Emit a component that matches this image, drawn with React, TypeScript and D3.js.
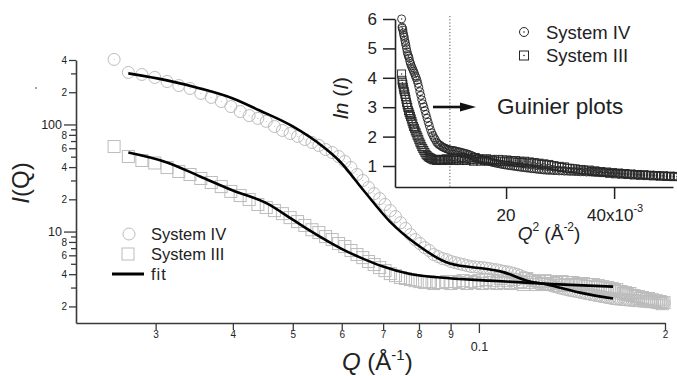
import { useEffect, useRef } from "react";
import * as d3 from "d3";

// SAXS data, I(Q) vs Q (1/Å)
const systemIV: [number, number][] = [
  [0.0257, 405], [0.0271, 306], [0.0285, 293], [0.0299, 275], [0.0313, 252], [0.0327, 231], [0.0341, 217],
  [0.0355, 195], [0.0369, 179], [0.0383, 164], [0.0397, 147], [0.0411, 132], [0.0425, 121], [0.0439, 114],
  [0.0453, 107], [0.0467, 95.7], [0.0481, 87.9], [0.0495, 82.4], [0.0509, 77.3], [0.0523, 72.4], [0.0537, 67.9],
  [0.0551, 63.7], [0.0565, 58.4], [0.0579, 54.7], [0.0593, 50.2], [0.0607, 45.1], [0.0621, 39.6], [0.0635, 34.1],
  [0.0649, 30.0], [0.0663, 25.8], [0.0677, 22.6], [0.0691, 20.3], [0.0705, 17.9], [0.0719, 15.7], [0.0733, 13.8],
  [0.0747, 12.1], [0.0761, 10.7], [0.0775, 9.37], [0.0789, 8.42], [0.0803, 7.73], [0.0817, 7.09], [0.0831, 6.65],
  [0.0845, 6.10], [0.0859, 5.84], [0.0873, 5.59], [0.0887, 5.47], [0.0901, 5.25], [0.0915, 5.13], [0.0929, 5.02],
  [0.0943, 4.92], [0.0957, 4.81], [0.0971, 4.71], [0.0985, 4.68], [0.0999, 4.64],
  [0.1013, 4.61], [0.1027, 4.56], [0.1041, 4.51], [0.1055, 4.42], [0.1069, 4.40], [0.1083, 4.32], [0.1097, 4.25],
  [0.1111, 4.20], [0.1125, 4.14], [0.1139, 4.05], [0.1153, 3.98], [0.1167, 3.88], [0.1181, 3.76], [0.1195, 3.68],
  [0.1209, 3.58], [0.1223, 3.50], [0.1237, 3.44], [0.1251, 3.36], [0.1265, 3.30], [0.1279, 3.24], [0.1293, 3.20],
  [0.1307, 3.14], [0.1321, 3.08], [0.1335, 3.04], [0.1349, 2.98], [0.1363, 2.95], [0.1377, 2.90], [0.1391, 2.86],
  [0.1405, 2.82], [0.1419, 2.80], [0.1433, 2.76], [0.1447, 2.74], [0.1461, 2.70], [0.1475, 2.68], [0.1489, 2.64],
  [0.1503, 2.62], [0.1517, 2.58], [0.1531, 2.57], [0.1545, 2.53], [0.1559, 2.52], [0.1573, 2.48], [0.1587, 2.47],
  [0.1601, 2.44], [0.1615, 2.42], [0.1629, 2.40],
  [0.1643, 2.37], [0.1657, 2.36], [0.1671, 2.34], [0.1685, 2.35], [0.1699, 2.32], [0.1713, 2.33], [0.1727, 2.30],
  [0.1741, 2.31], [0.1755, 2.28], [0.1769, 2.29], [0.1783, 2.26], [0.1797, 2.27], [0.1811, 2.25], [0.1825, 2.25],
  [0.1839, 2.23], [0.1853, 2.24], [0.1867, 2.21], [0.1881, 2.22], [0.1895, 2.20], [0.1909, 2.20], [0.1923, 2.18],
  [0.1937, 2.19], [0.1951, 2.17], [0.1965, 2.17], [0.1979, 2.15], [0.1993, 2.16], [0.2007, 2.14],
  [0.2021, 2.12], [0.2035, 2.13], [0.2049, 2.09], [0.2063, 2.10], [0.2077, 2.06], [0.2091, 2.07], [0.2105, 2.03],
  [0.2119, 2.04], [0.2133, 2.01], [0.2147, 2.02], [0.2161, 1.98], [0.2175, 1.99], [0.2189, 1.96], [0.2203, 1.96],
  [0.2217, 1.93], [0.2231, 1.94], [0.2245, 1.91], [0.2259, 1.91], [0.2273, 1.89],
];

const systemIII: [number, number][] = [
  [0.0257, 62.2], [0.0271, 50.2], [0.0285, 46.1], [0.0299, 43.7], [0.0313, 39.6], [0.0327, 36.4], [0.0341, 34.1],
  [0.0355, 31.3], [0.0369, 28.7], [0.0383, 26.3], [0.0397, 23.7], [0.0411, 21.7], [0.0425, 19.9], [0.0439, 17.9],
  [0.0453, 16.8], [0.0467, 15.7], [0.0481, 14.7], [0.0495, 13.5], [0.0509, 12.4], [0.0523, 11.4], [0.0537, 10.4],
  [0.0551, 9.79], [0.0565, 8.98], [0.0579, 8.42], [0.0593, 7.73], [0.0607, 7.24], [0.0621, 6.65], [0.0635, 6.10],
  [0.0649, 5.71], [0.0663, 5.25], [0.0677, 4.92], [0.0691, 4.61], [0.0705, 4.32], [0.0719, 4.05], [0.0733, 3.88],
  [0.0747, 3.72], [0.0761, 3.64], [0.0775, 3.56], [0.0789, 3.48], [0.0803, 3.41], [0.0817, 3.34], [0.0831, 3.41],
  [0.0845, 3.27], [0.0859, 3.34], [0.0873, 3.34], [0.0887, 3.41], [0.0901, 3.27], [0.0915, 3.41], [0.0929, 3.34],
  [0.0943, 3.48], [0.0957, 3.27], [0.0971, 3.41], [0.0985, 3.34], [0.0999, 3.48], [0.1013, 3.27], [0.1027, 3.56],
  [0.1041, 3.34], [0.1055, 3.48], [0.1069, 3.27], [0.1083, 3.64], [0.1097, 3.34], [0.1111, 3.48], [0.1125, 3.27],
  [0.1139, 3.56], [0.1153, 3.34], [0.1167, 3.41], [0.1181, 3.20], [0.1195, 3.64], [0.1209, 3.34], [0.1223, 3.48],
  [0.1237, 3.20], [0.1251, 3.41], [0.1265, 3.27], [0.1279, 3.48], [0.1293, 3.20], [0.1307, 3.41], [0.1321, 3.27],
  [0.1335, 3.34], [0.1349, 3.13], [0.1363, 3.41], [0.1377, 3.20], [0.1391, 3.34], [0.1405, 3.13], [0.1419, 3.34],
  [0.1433, 3.20], [0.1447, 3.27], [0.1461, 3.13], [0.1475, 3.27], [0.1489, 3.06], [0.1503, 3.20], [0.1517, 3.06],
  [0.1531, 3.20], [0.1545, 3.00], [0.1559, 3.13], [0.1573, 3.00], [0.1587, 3.06], [0.1601, 2.93], [0.1615, 3.00],
  [0.1629, 2.87], [0.1643, 2.93], [0.1657, 2.81], [0.1671, 2.87], [0.1685, 2.75], [0.1699, 2.75], [0.1713, 2.64],
  [0.1727, 2.69], [0.1741, 2.58], [0.1755, 2.64], [0.1769, 2.52], [0.1783, 2.52], [0.1797, 2.47], [0.1811, 2.47],
  [0.1825, 2.37], [0.1839, 2.42], [0.1853, 2.37], [0.1867, 2.31], [0.1881, 2.37], [0.1895, 2.26], [0.1909, 2.31],
  [0.1923, 2.22], [0.1937, 2.26], [0.1951, 2.17], [0.1965, 2.22], [0.1979, 2.12], [0.1993, 2.17], [0.2007, 2.08],
  [0.2021, 2.14], [0.2035, 2.06], [0.2049, 2.10], [0.2063, 2.03], [0.2077, 2.07], [0.2091, 2.00], [0.2105, 2.04],
  [0.2119, 1.98], [0.2133, 2.02], [0.2147, 1.96], [0.2161, 1.99], [0.2175, 1.94], [0.2189, 1.97], [0.2203, 1.92],
  [0.2217, 1.95], [0.2231, 1.90], [0.2245, 1.93], [0.2259, 1.89], [0.2273, 1.91],
];

// model fits
const fitIV: [number, number][] = [
  [0.0271, 300], [0.0313, 258], [0.0354, 217], [0.04, 175], [0.0442, 135], [0.05, 95.8], [0.0559, 62.3],
  [0.0596, 45.1], [0.0649, 24.7], [0.0718, 12.4], [0.0794, 7.56], [0.0898, 5.02], [0.1042, 4.42], [0.1094, 4.18],
  [0.1196, 3.48], [0.1288, 3.2], [0.1457, 2.69], [0.1648, 2.37],
];
const fitIII: [number, number][] = [
  [0.0271, 54.7], [0.0313, 44.2], [0.0354, 32.7], [0.04, 24.2], [0.0454, 18.3], [0.05, 12.9], [0.0533, 10.2],
  [0.0603, 6.79], [0.0649, 5.59], [0.07, 4.71], [0.0774, 4.01], [0.0865, 3.72], [0.1042, 3.48], [0.1317, 3.23],
  [0.1648, 3.06],
];

const xTicks = [0.03, 0.04, 0.05, 0.06, 0.07, 0.08, 0.09, 0.1, 0.2];
const xTickLabels = ["3", "4", "5", "6", "7", "8", "9", "0.1", "2"];
const yTicks = [2, 3, 4, 5, 6, 7, 8, 9, 10, 20, 30, 40, 50, 60, 70, 80, 90, 100, 200, 300, 400];
const yTickLabels: Record<number, string> = {
  2: "2", 4: "4", 6: "6", 8: "8", 10: "10", 20: "2", 40: "4", 60: "6", 80: "8", 100: "100", 200: "2", 400: "4",
};
const insetYTicks = [1, 2, 3, 4, 5, 6];
const insetXTicks = [0.02, 0.04];
const guinierLimit = 0.0096; // Q^2 where the dotted line sits

const FONT = "'Liberation Sans', Arial, Helvetica, sans-serif";
const W = 677, H = 376;

export default function App() {
  const svgRef = useRef<SVGSVGElement>(null);

  useEffect(() => {
    const svg = d3.select(svgRef.current);
    svg.selectAll("*").remove();
    svg.attr("font-family", FONT);

    // ---------- main plot ----------
    const x = d3.scaleLog().domain([0.0223, 0.2]).range([76, 665]);
    const y = d3.scaleLog().domain([1.4, 400]).range([323, 60]);
    const axisColor = "#3a3a3a";

    const yAxis = d3.axisLeft(y).tickValues(yTicks).tickFormat((d) => yTickLabels[+d] ?? "").tickSizeOuter(0);
    const gy = svg.append("g").attr("transform", `translate(${x.range()[0]},0)`).style("color", axisColor).call(yAxis);
    gy.select(".domain").attr("stroke-width", 1.6);
    gy.selectAll<SVGLineElement, number>(".tick line")
      .attr("stroke-width", 1.3)
      .attr("x2", (d) => (d === 10 || d === 100 ? -12 : yTickLabels[d] ? -7 : -5));
    gy.selectAll<SVGTextElement, number>(".tick text")
      .attr("x", (d) => (d === 10 || d === 100 ? -14 : -9))
      .attr("font-size", (d) => (d === 10 || d === 100 ? 12.5 : 10))
      .attr("font-family", FONT)
      .attr("fill", "#222");

    const xAxis = d3.axisBottom(x).tickValues(xTicks).tickFormat((d, i) => xTickLabels[i]).tickSizeOuter(0);
    const gx = svg.append("g").attr("transform", `translate(0,${y.range()[0]})`).style("color", axisColor).call(xAxis);
    gx.select(".domain").attr("stroke-width", 1.6);
    gx.selectAll<SVGLineElement, number>(".tick line")
      .attr("stroke-width", 1.3)
      .attr("y2", (d) => (d === 0.1 ? 10 : 7));
    gx.selectAll<SVGTextElement, number>(".tick text")
      .attr("dy", null)
      .attr("y", (d) => (d === 0.1 ? 28 : 15))
      .attr("font-size", (d) => (d === 0.1 ? 12.5 : 10))
      .attr("font-family", FONT)
      .attr("fill", "#222");

    // axis titles
    const yt = svg.append("text")
      .attr("transform", "translate(29,183) rotate(-90)")
      .attr("text-anchor", "middle")
      .attr("font-size", 24)
      .attr("fill", "#222");
    yt.append("tspan").attr("font-style", "italic").text("I");
    yt.append("tspan").text("(Q)");

    const xt = svg.append("text").attr("x", 342).attr("y", 370).attr("font-size", 24).attr("fill", "#222");
    xt.append("tspan").attr("font-style", "italic").text("Q");
    xt.append("tspan").text(" (Å");
    xt.append("tspan").attr("font-size", 15).attr("dy", -10).text("-1");
    xt.append("tspan").attr("dy", 10).text(")");

    svg.append("circle").attr("cx", 36).attr("cy", 88).attr("r", 0.9).attr("fill", "#777");

    const mainClip = (d: [number, number]) => d[0] <= 0.2;
    const gray = "#bcbcbc";

    const gIV = svg.append("g");
    gIV.selectAll("circle.m")
      .data(systemIV.filter(mainClip))
      .join("circle")
      .attr("class", "m")
      .attr("cx", (d) => x(d[0]))
      .attr("cy", (d) => y(d[1]))
      .attr("r", 6)
      .attr("fill", "none")
      .attr("stroke", gray)
      .attr("stroke-width", 1);
    gIV.selectAll("circle.c")
      .data(systemIV.filter(mainClip))
      .join("circle")
      .attr("class", "c")
      .attr("cx", (d) => x(d[0]))
      .attr("cy", (d) => y(d[1]))
      .attr("r", 0.6)
      .attr("fill", "#c8c8c8");

    const sq = 12;
    svg.append("g")
      .selectAll("rect")
      .data(systemIII.filter(mainClip))
      .join("rect")
      .attr("x", (d) => x(d[0]) - sq / 2)
      .attr("y", (d) => y(d[1]) - sq / 2)
      .attr("width", sq)
      .attr("height", sq)
      .attr("fill", "none")
      .attr("stroke", gray)
      .attr("stroke-width", 1);

    const fitLine = d3.line<[number, number]>()
      .x((d) => x(d[0]))
      .y((d) => y(d[1]))
      .curve(d3.curveMonotoneX);
    svg.append("g")
      .selectAll("path")
      .data([fitIV, fitIII])
      .join("path")
      .attr("d", (d) => fitLine(d))
      .attr("fill", "none")
      .attr("stroke", "#000")
      .attr("stroke-width", 2.6);

    // main legend
    const lg = svg.append("g").attr("font-size", 16.5).attr("fill", "#222");
    lg.append("circle").attr("cx", 129).attr("cy", 234).attr("r", 6).attr("fill", "none").attr("stroke", gray);
    lg.append("text").attr("x", 151).attr("y", 240).text("System IV");
    lg.append("rect").attr("x", 122).attr("y", 248).attr("width", sq).attr("height", sq)
      .attr("fill", "none").attr("stroke", gray);
    lg.append("text").attr("x", 151).attr("y", 260).text("System III");
    lg.append("line").attr("x1", 112).attr("x2", 144).attr("y1", 274).attr("y2", 274)
      .attr("stroke", "#000").attr("stroke-width", 3);
    lg.append("text").attr("x", 151).attr("y", 280).attr("letter-spacing", 1).text("fit");

    // ---------- inset: Guinier plots, ln(I) vs Q^2 ----------
    const ix = d3.scaleLinear().domain([-0.00056, 0.0509]).range([395, 673]);
    const iy = d3.scaleLinear().domain([0.286, 6]).range([187, 19]);
    const toGuinier = (d: [number, number]): [number, number] => [d[0] * d[0], Math.log(d[1])];

    const iyAxis = d3.axisLeft(iy).tickValues(insetYTicks).tickFormat(d3.format("d")).tickSize(12).tickPadding(6).tickSizeOuter(0);
    const giy = svg.append("g").attr("transform", `translate(${ix.range()[0]},0)`).style("color", "#222").call(iyAxis);
    giy.select(".domain").attr("stroke-width", 1.6);
    giy.selectAll(".tick line").attr("stroke-width", 1.5);
    giy.selectAll(".tick text").attr("font-size", 17).attr("font-family", FONT).attr("fill", "#222");

    const ixAxis = d3.axisBottom(ix).tickValues(insetXTicks).tickFormat(() => "").tickSize(12).tickSizeOuter(0);
    const gix = svg.append("g").attr("transform", `translate(0,${iy.range()[0]})`).style("color", "#222").call(ixAxis);
    gix.select(".domain").attr("stroke-width", 1.6);
    gix.selectAll(".tick line").attr("stroke-width", 1.5);

    svg.append("text").attr("x", ix(0.02)).attr("y", 221).attr("text-anchor", "middle")
      .attr("font-size", 17).attr("fill", "#222").text("20");
    const t40 = svg.append("text").attr("x", ix(0.04) + 1).attr("y", 221).attr("text-anchor", "middle")
      .attr("font-size", 17).attr("fill", "#222");
    t40.append("tspan").text("40x10");
    t40.append("tspan").attr("font-size", 11).attr("dy", -9).text("-3");

    const q2 = svg.append("text").attr("x", 549).attr("y", 240).attr("text-anchor", "middle")
      .attr("font-size", 19).attr("fill", "#222");
    q2.append("tspan").attr("font-style", "italic").text("Q");
    q2.append("tspan").attr("font-size", 12).attr("dy", -9).text("2");
    q2.append("tspan").attr("dy", 9).text(" (Å");
    q2.append("tspan").attr("font-size", 12).attr("dy", -9).text("-2");
    q2.append("tspan").attr("dy", 9).text(")");

    const lnI = svg.append("text").attr("transform", "translate(348,98) rotate(-90)").attr("text-anchor", "middle")
      .attr("font-size", 21).attr("fill", "#222");
    lnI.append("tspan").attr("font-style", "italic").text("ln");
    lnI.append("tspan").text(" (");
    lnI.append("tspan").attr("font-style", "italic").text("I");
    lnI.append("tspan").text(")");

    // dotted Guinier limit
    svg.append("line")
      .attr("x1", ix(guinierLimit)).attr("x2", ix(guinierLimit))
      .attr("y1", 16).attr("y2", iy.range()[0])
      .attr("stroke", "#555").attr("stroke-width", 1).attr("stroke-dasharray", "1.2,2");

    const dark = "#262626";
    const iIII = systemIII.map(toGuinier);
    const iIV = systemIV.map(toGuinier);
    const ins = 8;
    const gIII = svg.append("g");
    gIII.selectAll("rect")
      .data(iIII)
      .join("rect")
      .attr("x", (d) => ix(d[0]) - ins / 2)
      .attr("y", (d) => iy(d[1]) - ins / 2)
      .attr("width", ins)
      .attr("height", ins)
      .attr("fill", "none")
      .attr("stroke", dark)
      .attr("stroke-width", 0.9);
    const gIVi = svg.append("g");
    gIVi.selectAll("circle")
      .data(iIV)
      .join("circle")
      .attr("cx", (d) => ix(d[0]))
      .attr("cy", (d) => iy(d[1]))
      .attr("r", 4)
      .attr("fill", "none")
      .attr("stroke", dark)
      .attr("stroke-width", 0.9);
    svg.append("g")
      .selectAll("circle")
      .data([...iIII, ...iIV])
      .join("circle")
      .attr("cx", (d) => ix(d[0]))
      .attr("cy", (d) => iy(d[1]))
      .attr("r", 0.7)
      .attr("fill", dark);

    // arrow + annotation
    svg.append("line").attr("x1", 433).attr("x2", 462).attr("y1", 107).attr("y2", 107)
      .attr("stroke", "#111").attr("stroke-width", 2.6);
    svg.append("path").attr("d", "M460,102.5 L476,107 L460,111.5 Z").attr("fill", "#111");
    svg.append("text").attr("x", 497).attr("y", 114).attr("font-size", 22.5).attr("fill", "#222").text("Guinier plots");

    // inset legend
    const il = svg.append("g").attr("font-size", 18.5).attr("fill", "#222");
    il.append("circle").attr("cx", 524).attr("cy", 32).attr("r", 4.5).attr("fill", "none").attr("stroke", dark);
    il.append("circle").attr("cx", 524).attr("cy", 32).attr("r", 0.8).attr("fill", dark);
    il.append("text").attr("x", 546).attr("y", 39).text("System IV");
    il.append("rect").attr("x", 519.5).attr("y", 51).attr("width", 9).attr("height", 9)
      .attr("fill", "none").attr("stroke", dark);
    il.append("circle").attr("cx", 524).attr("cy", 55.5).attr("r", 0.8).attr("fill", dark);
    il.append("text").attr("x", 546).attr("y", 62).text("System III");
  }, []);

  return (
    <svg
      ref={svgRef}
      width={W}
      height={H}
      viewBox={`0 0 ${W} ${H}`}
      style={{ position: "absolute", left: 0, top: 0, background: "#fff", display: "block" }}
    />
  );
}
